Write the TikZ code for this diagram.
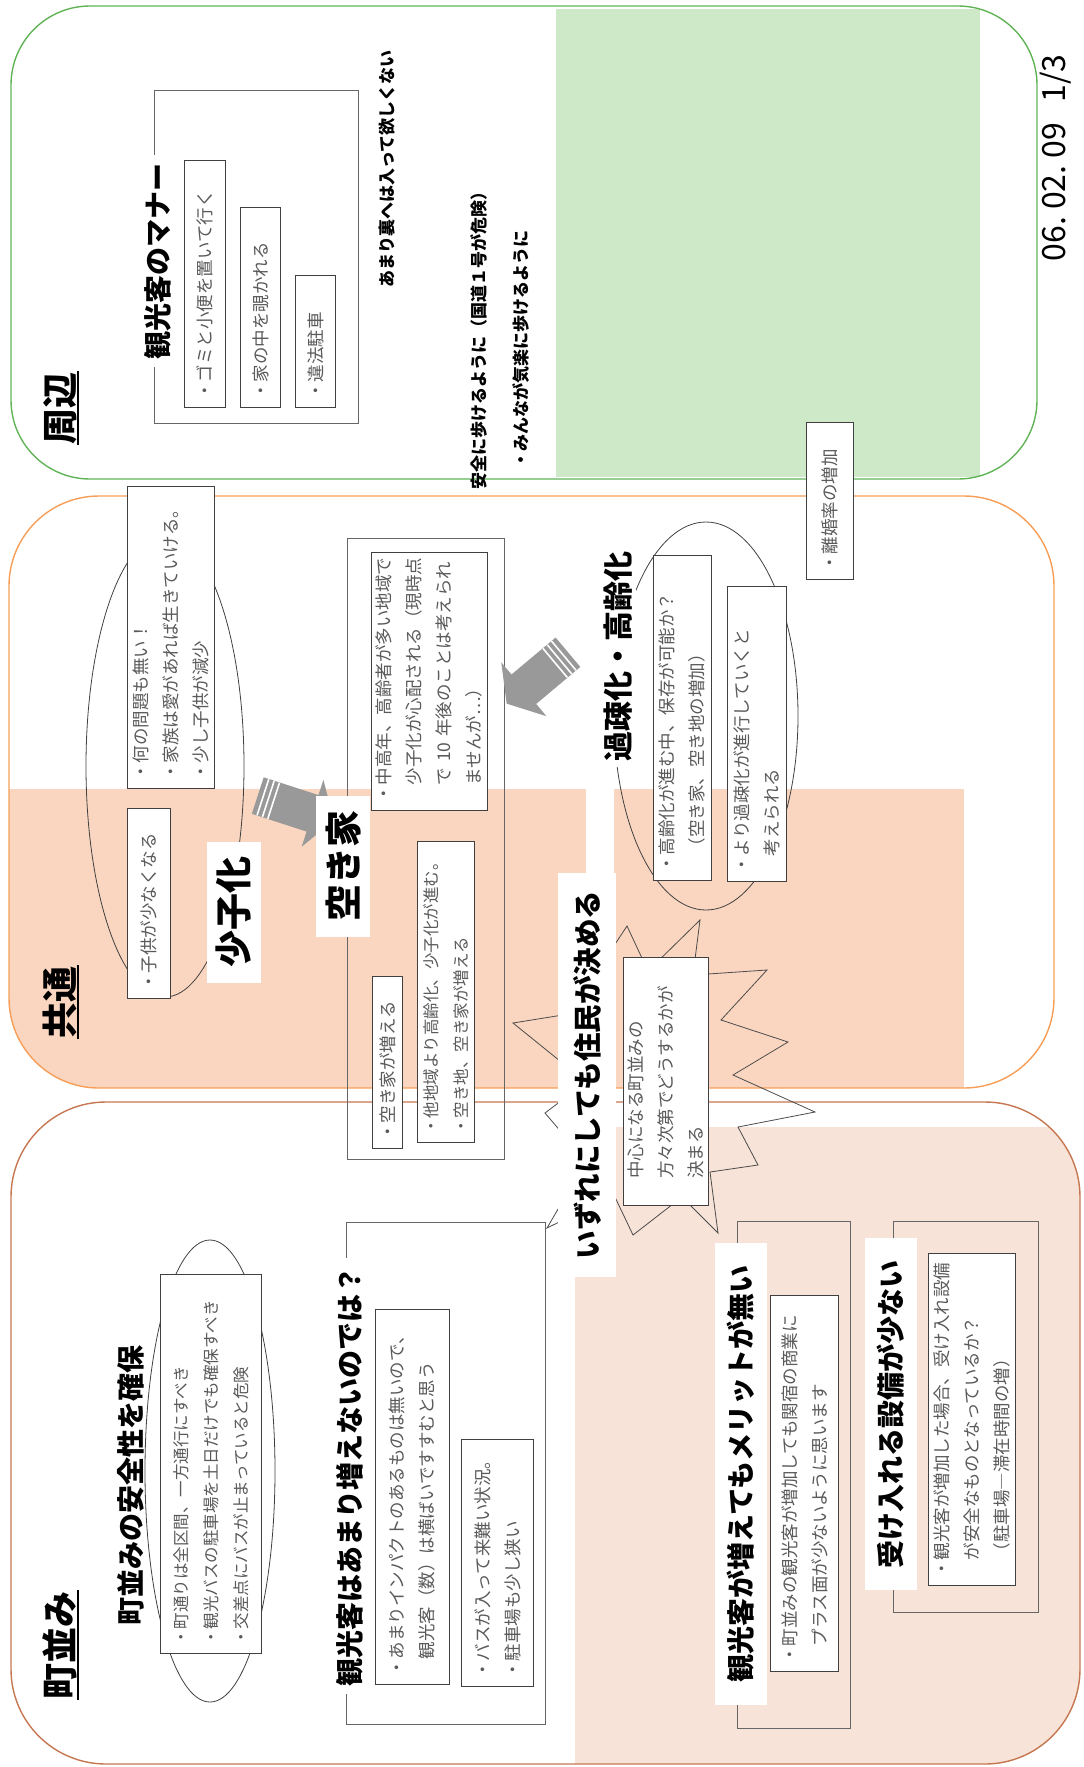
\documentclass[tikz,border=0pt]{standalone}
\usepackage{fontspec}
\setmainfont{Noto Sans CJK JP}
\usetikzlibrary{shapes.arrows,calc}

\definecolor{grnline}{RGB}{96,180,86}
\definecolor{grnfill}{RGB}{206,233,200}
\definecolor{orgline}{RGB}{246,158,88}
\definecolor{orgfill}{RGB}{250,214,192}
\definecolor{machline}{RGB}{198,118,80}
\definecolor{machfill}{RGB}{247,227,215}
\definecolor{bodytext}{RGB}{90,90,90}

\tikzset{
  hdr/.style={rotate=90, font=\bfseries\fontsize{36}{40}\selectfont, inner sep=1pt},
  ttl/.style={rotate=90, fill=white, font=\bfseries\fontsize{28}{32}\selectfont, inner xsep=8pt, inner ysep=7pt},
  lbl/.style={rotate=90, fill=white, font=\bfseries\fontsize{37}{40}\selectfont, inner xsep=15pt, inner ysep=9pt},
  memo/.style={rotate=90, font=\bfseries\fontsize{17}{20}\selectfont, inner sep=1pt},
  tbox/.style 2 args={rotate=90, anchor=north west, draw=black!75, fill=white, line width=0.8pt,
    text=bodytext, font=\fontsize{17.5}{30}\selectfont, align=left, inner sep=0pt,
    minimum width=#1pt, minimum height=#2pt, text width=#1pt-16pt},
  brk/.style={draw=black!60, line width=0.8pt},
  ring/.style={draw=black!75, line width=0.8pt},
  burst/.style={draw=black!70, line width=0.8pt},
  garrow/.style={single arrow, fill=black!40, inner xsep=0pt, inner ysep=19pt,
    minimum height=80pt, single arrow head extend=16pt, single arrow tip angle=115},
}

\begin{document}
\begin{tikzpicture}[x=1pt, y=-1pt]
\useasboundingbox (0,0) rectangle (1084,1767);

% section backgrounds
\begin{scope}
  \clip[rounded corners=79pt] (11,6) rectangle (1037,479);
  \fill[grnfill] (556,9) rectangle (980,477);
\end{scope}
\draw[grnline, line width=1.4pt, rounded corners=79pt] (11,6) rectangle (1037,479);

\begin{scope}
  \clip[rounded corners=90pt] (9,496) rectangle (1054,1088);
  \fill[orgfill] (9,789) rectangle (964,1088);
  \fill[white] (586,789) rectangle (614,875);
\end{scope}
\draw[orgline, line width=1.4pt, rounded corners=90pt] (9,496) rectangle (1054,1088);

\begin{scope}
  \clip[rounded corners=95pt] (11,1102) rectangle (1080,1764);
  \fill[machfill] (575,1127) rectangle (1080,1767);
\end{scope}
\draw[machline, line width=1.4pt, rounded corners=95pt] (11,1102) rectangle (1080,1764);

% headers
\node[hdr] (hshu) at (60,408) {周辺};
\node[hdr] (hkyo) at (60,1002) {共通};
\node[hdr] (hmachi) at (60,1645) {町並み};
\foreach \h in {hshu,hkyo,hmachi}
  \draw[line width=2pt] (\h.south west) -- (\h.south east);

% 周辺
\draw[brk] (154,90) rectangle (358,423);
\node[ttl] (tmanner) at (158,261) {観光客のマナー};
\node[tbox={247}{41}] (bgomi) at (184,408) {・ゴミと小便を置いて行く};
\node[tbox={200}{40}] (bnozoki) at (240,408) {・家の中を覗かれる};
\node[tbox={132}{40}] (bchusha) at (295,408) {・違法駐車};
\node[memo] (nura) at (387,169) {あまり裏へは入って欲しくない};
\node[memo] (nanzen) at (479,336) {安全に歩けるように（国道１号が危険）};
\node[memo] (nkiraku) at (521,349) {・みんなが気楽に歩けるように};
\node[rotate=90, font=\fontsize{32}{34}\selectfont] (date) at (1056,158) {06.\ 02.\ 09\hspace{20pt}1/3};
\node[tbox={157}{47}] (brikon) at (806,580) {・離婚率の増加};

% 共通
\draw[ring] (165,766) ellipse [x radius=79, y radius=231];
\node[tbox={302}{87}] (bmondai) at (127,789) {・何の問題も無い！\\・家族は愛があれば生きていける。\\・少し子供が減少};
\node[tbox={190}{43}] (bkodomo) at (127,999) {・子供が少なくなる};
\node[lbl] (lshoshi) at (234,912) {少子化};
\node[garrow, rotate=-18] (ar1) at (290,806) {};
\draw[brk] (347,538) rectangle (504,1159);
\node[lbl] (lakiya) at (343,866) {空き家};
\node[tbox={258}{116}] (bchuko) at (371,811) {・中高年、高齢者が多い地域で\\\hphantom{・}少子化が心配される（現時点\\\hphantom{・}で 10 年後のことは考えられ\\\hphantom{・}ませんが…）};
\node[tbox={301}{57}, font=\fontsize{16.5}{30}\selectfont] (btachiiki) at (417,1143) {・他地域より高齢化、少子化が進む。\\・空き地、空き家が増える};
\node[tbox={172}{30}] (bakiya) at (372,1149) {・空き家が増える};
\draw[ring] (706,716) ellipse [x radius=92, y radius=194];
\node[lbl, font=\bfseries\fontsize{30}{34}\selectfont, inner xsep=6pt, inner ysep=4pt] (lkaso) at (618,656) {過疎化・高齢化};
\node[tbox={325}{58}] (bkorei) at (653,881) {・高齢化が進む中、保存が可能か？\\\hphantom{・}（空き家、空き地の増加）};
\node[tbox={295}{59}] (bkaso) at (727,882) {・より過疎化が進行していくと\\\hphantom{・}考えられる};
\node[garrow, rotate=220] (ar2) at (542,674) {};
\foreach \a in {ar1,ar2}
  \foreach \f in {0.07,0.14,0.21}
    \draw[white, line width=1.6pt] ($(\a.tail)!\f!(\a.tip)!19pt!90:(\a.tip)$) -- ($(\a.tail)!\f!(\a.tip)!19pt!-90:(\a.tip)$);

% 町並み
\draw[ring] (210,1471) ellipse [x radius=65, y radius=231];
\node[ttl, fill=none] (tanzen) at (131,1485) {町並みの安全性を確保};
\node[tbox={379}{101}, font=\fontsize{16.5}{30}\selectfont] (banzen) at (160,1654) {・町通りは全区間、一方通行にすべき\\・観光バスの駐車場を土日だけでも確保すべき\\・交差点にバスが止まっていると危険};
\draw[brk] (346,1222) rectangle (545,1724);
\node[ttl] (tfueru) at (350,1476) {観光客はあまり増えないのでは？};
\node[tbox={375}{74}] (bimpact) at (375,1685) {・あまりインパクトのあるものは無いので、\\\hphantom{・}観光客（数）は横ばいですすむと思う};
\node[tbox={247}{72}] (bbus) at (461,1687) {・バスが入って来難い状況。\\・駐車場も少し狭い};
\draw[burst] (513,1023) -- (569,1014) -- (627,926) -- (648,971) -- (700,920) -- (693,975)
  -- (767,970) -- (721,1020) -- (788,1042) -- (733,1075) -- (815,1112) -- (738,1127)
  -- (758,1165) -- (710,1172) -- (718,1233) -- (682,1197) -- (633,1235) -- (614,1195)
  -- (547,1228) -- (586,1161) -- (545,1113) -- (586,1082) -- cycle;
\node[tbox={248}{85}, text width=194pt] (bchushin) at (623,1206) {中心になる町並みの\\方々次第でどうするかが\\決まる};
\node[ttl, font=\bfseries\fontsize{28.5}{32}\selectfont, inner xsep=18pt, inner ysep=15pt] (tizure) at (587,1075) {いずれにしても住民が決める};
\draw[brk] (737,1221) rectangle (850,1728);
\node[ttl, inner xsep=22pt, inner ysep=12pt] (tmerit) at (741,1474) {観光客が増えてもメリットが無い};
\node[tbox={376}{68}] (bmerit) at (770,1672) {・町並みの観光客が増加しても関宿の商業に\\\hphantom{・}プラス面が少ないように思います};
\draw[brk] (893,1221) rectangle (1038,1612);
\node[ttl, inner xsep=22pt, inner ysep=12pt] (tsetsubi) at (891,1414) {受け入れる設備が少ない};
\node[tbox={332}{87}] (bsetsubi) at (928,1586) {・観光客が増加した場合、受け入れ設備\\\hphantom{・}が安全なものとなっているか？\\\hphantom{・}（駐車場―滞在時間の増）};
\end{tikzpicture}
\end{document}
